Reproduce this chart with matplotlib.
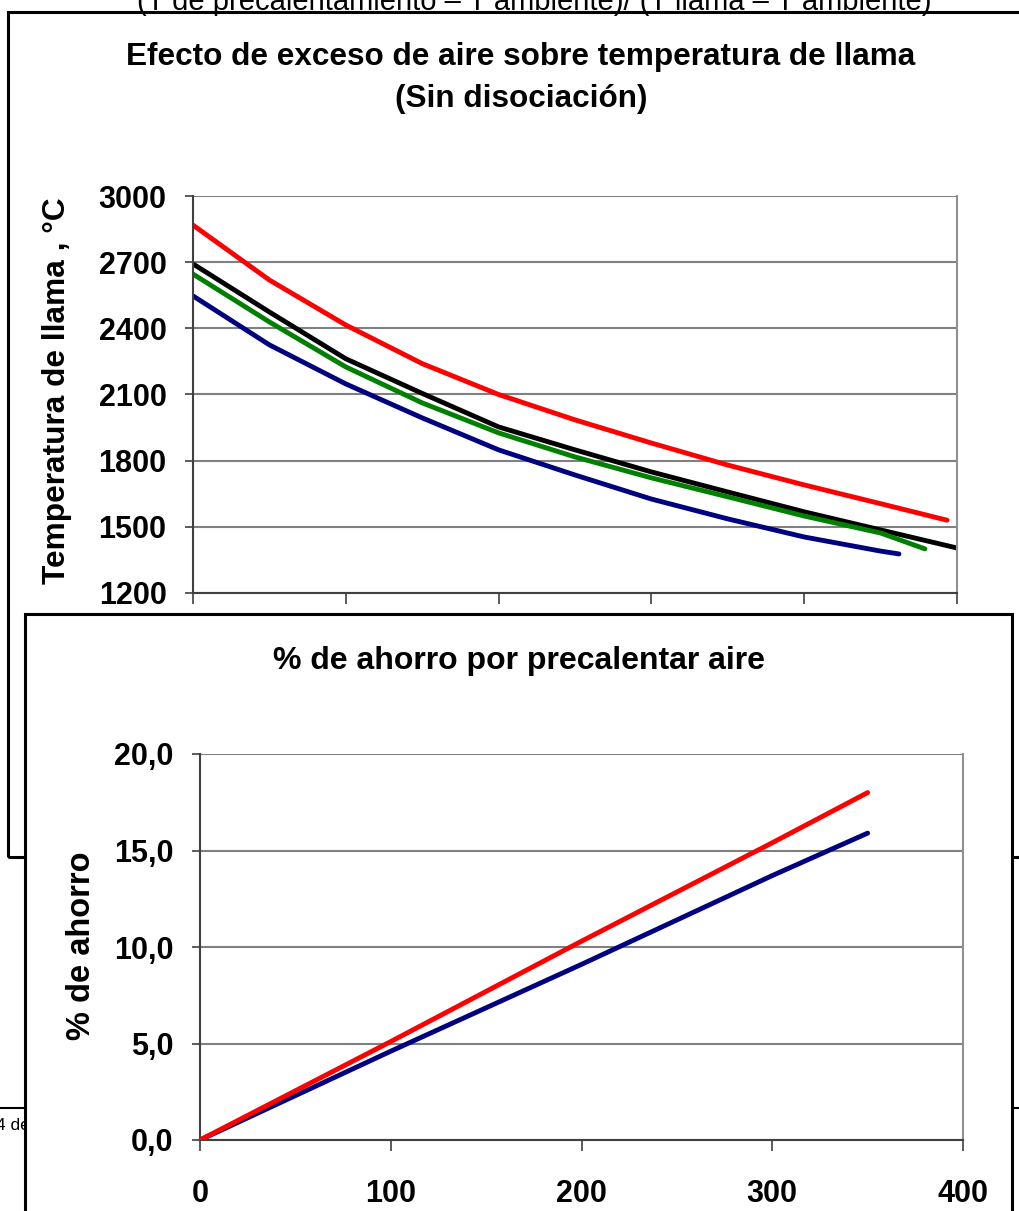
import matplotlib
matplotlib.use("Agg")
import matplotlib.pyplot as plt
from matplotlib.patches import Rectangle
from matplotlib.lines import Line2D

W, H = 1019, 1211
FONT = ['Liberation Sans', 'DejaVu Sans']

# ---------------- data ----------------
# Top chart: flame temperature vs excess air
exceso_red = [0, 10, 20, 30, 40, 50, 60, 70, 80, 90, 98.7]
temp_red = [2868, 2619, 2415, 2240, 2100, 1985, 1880, 1780, 1690, 1605, 1530]
exceso_black = [0, 10, 20, 30, 40, 50, 60, 70, 80, 90, 100]
temp_black = [2692, 2474, 2262, 2105, 1953, 1849, 1749, 1658, 1568, 1486, 1404]
exceso_green = [0, 10, 20, 30, 40, 50, 60, 70, 80, 90, 95.8]
temp_green = [2646, 2429, 2225, 2062, 1926, 1817, 1722, 1636, 1549, 1472, 1400]
exceso_blue = [0, 10, 20, 30, 40, 50, 60, 70, 80, 90, 92.4]
temp_blue = [2547, 2325, 2148, 1994, 1849, 1735, 1626, 1536, 1454, 1390, 1377]
top_yticks = [1200, 1500, 1800, 2100, 2400, 2700, 3000]
top_xticks = [0, 20, 40, 60, 80, 100]

# Bottom chart: % savings by preheating air
precal = [0, 100, 200, 300, 350]
ahorro_red = [0.0, 5.1, 10.3, 15.4, 18.0]
ahorro_blue = [0.0, 4.6, 9.1, 13.7, 15.9]
bot_yticks = [0, 5, 10, 15, 20]
bot_ylabels = ["0,0", "5,0", "10,0", "15,0", "20,0"]
bot_xticks = [0, 100, 200, 300, 400]
bot_xlabels = ["0", "100", "200", "300", "400"]

top_title1 = "Efecto de exceso de aire sobre temperatura de llama"
top_title2 = "(Sin disociación)"
top_ylabel = "Temperatura de llama , °C"
bot_title = "% de ahorro por precalentar aire"
bot_ylabel = "% de ahorro"
header = "(T de precalentamiento – T ambiente)/ (T llama – T ambiente)"

# ---------------- figure ----------------
fig = plt.figure(figsize=(W / 100, H / 100), dpi=100)
plt.rcParams['font.family'] = FONT

def fx(px):
    return px / W

def fy(py):
    return 1 - py / H

def style_axes(ax, grid_color='#808080'):
    ax.set_facecolor('none')
    ax.spines['top'].set_visible(False)
    ax.spines['right'].set_color('#909090')
    ax.spines['right'].set_linewidth(1.5)
    ax.spines['left'].set_color('#404040')
    ax.spines['left'].set_linewidth(1.5)
    ax.spines['bottom'].set_color('#404040')
    ax.spines['bottom'].set_linewidth(1.5)
    ax.yaxis.grid(True, color=grid_color, linewidth=1.5)
    ax.set_axisbelow(True)
    ax.tick_params(axis='both', direction='out', length=6, width=1.2, color='#404040')

# header text clipped at top
fig.text(fx(534), fy(10), header, ha='center', va='baseline', fontsize=21,
         family=['Liberation Sans Narrow', 'Liberation Sans', 'DejaVu Sans'], zorder=0.5)

# ----- top chart -----
ax1 = fig.add_axes([fx(193), fy(593), fx(957) - fx(193), fy(196) - fy(593)], zorder=0)
style_axes(ax1)
ax1.plot(exceso_red, temp_red, color='#FF0000', lw=3.5, solid_capstyle='round')
ax1.plot(exceso_black, temp_black, color='#000000', lw=3.5, solid_capstyle='butt')
ax1.plot(exceso_green, temp_green, color='#008000', lw=3.5, solid_capstyle='round')
ax1.plot(exceso_blue, temp_blue, color='#000080', lw=3.5, solid_capstyle='round')
ax1.set_xlim(0, 100)
ax1.set_ylim(1200, 3000)
ax1.set_xticks(top_xticks)
ax1.set_xticklabels([])
ax1.set_yticks(top_yticks)
ax1.set_yticklabels([str(v) for v in top_yticks], fontsize=22, fontweight='bold')
ax1.tick_params(axis='y', pad=13)
ax1.tick_params(axis='x', length=8)

fig.text(fx(521), fy(57), top_title1, ha='center', va='center', fontsize=22.7, fontweight='bold')
fig.text(fx(521), fy(99), top_title2, ha='center', va='center', fontsize=22.7, fontweight='bold')
fig.text(fx(57), fy(391), top_ylabel, ha='center', va='center', rotation=90,
         fontsize=22.8, fontweight='bold')

# outer frames / page elements
fig.add_artist(Rectangle((fx(8), fy(857)), fx(1040) - fx(8), fy(12) - fy(857),
                         transform=fig.transFigure, fill=False, edgecolor='black',
                         linewidth=2.2, zorder=0.6))
fig.add_artist(Line2D([0, 1], [fy(1108), fy(1108)], transform=fig.transFigure,
                      color='black', linewidth=1.5, zorder=0.5))
fig.text(fx(-4), fy(1125), "4 de", ha='left', va='center', fontsize=12.5, zorder=0.5,
         family=['Liberation Sans', 'DejaVu Sans'])

# bottom chart box (white, covers what is behind)
fig.add_artist(Rectangle((fx(25), fy(1240)), fx(1012) - fx(25), fy(614) - fy(1240),
                         transform=fig.transFigure, facecolor='white', edgecolor='black',
                         linewidth=2.2, zorder=1))

# ----- bottom chart -----
ax2 = fig.add_axes([fx(200), fy(1140), fx(963) - fx(200), fy(754) - fy(1140)], zorder=2)
style_axes(ax2)
ax2.plot(precal, ahorro_red, color='#FF0000', lw=3.5, solid_capstyle='round', zorder=3)
ax2.plot(precal, ahorro_blue, color='#000080', lw=3.5, solid_capstyle='round', zorder=2)
ax2.set_xlim(0, 400)
ax2.set_ylim(0, 20)
ax2.set_xticks(bot_xticks)
ax2.set_xticklabels(bot_xlabels, fontsize=22, fontweight='bold')
ax2.set_yticks(bot_yticks)
ax2.set_yticklabels(bot_ylabels, fontsize=22, fontweight='bold')
ax2.tick_params(axis='y', pad=13)
ax2.tick_params(axis='x', pad=20, length=8)

fig.text(fx(519), fy(661), bot_title, ha='center', va='center', fontsize=23,
         fontweight='bold', zorder=3)
fig.text(fx(82), fy(946), bot_ylabel, ha='center', va='center', rotation=90,
         fontsize=23.5, fontweight='bold', zorder=3)

fig.savefig("out.png", dpi=100, facecolor='white')
